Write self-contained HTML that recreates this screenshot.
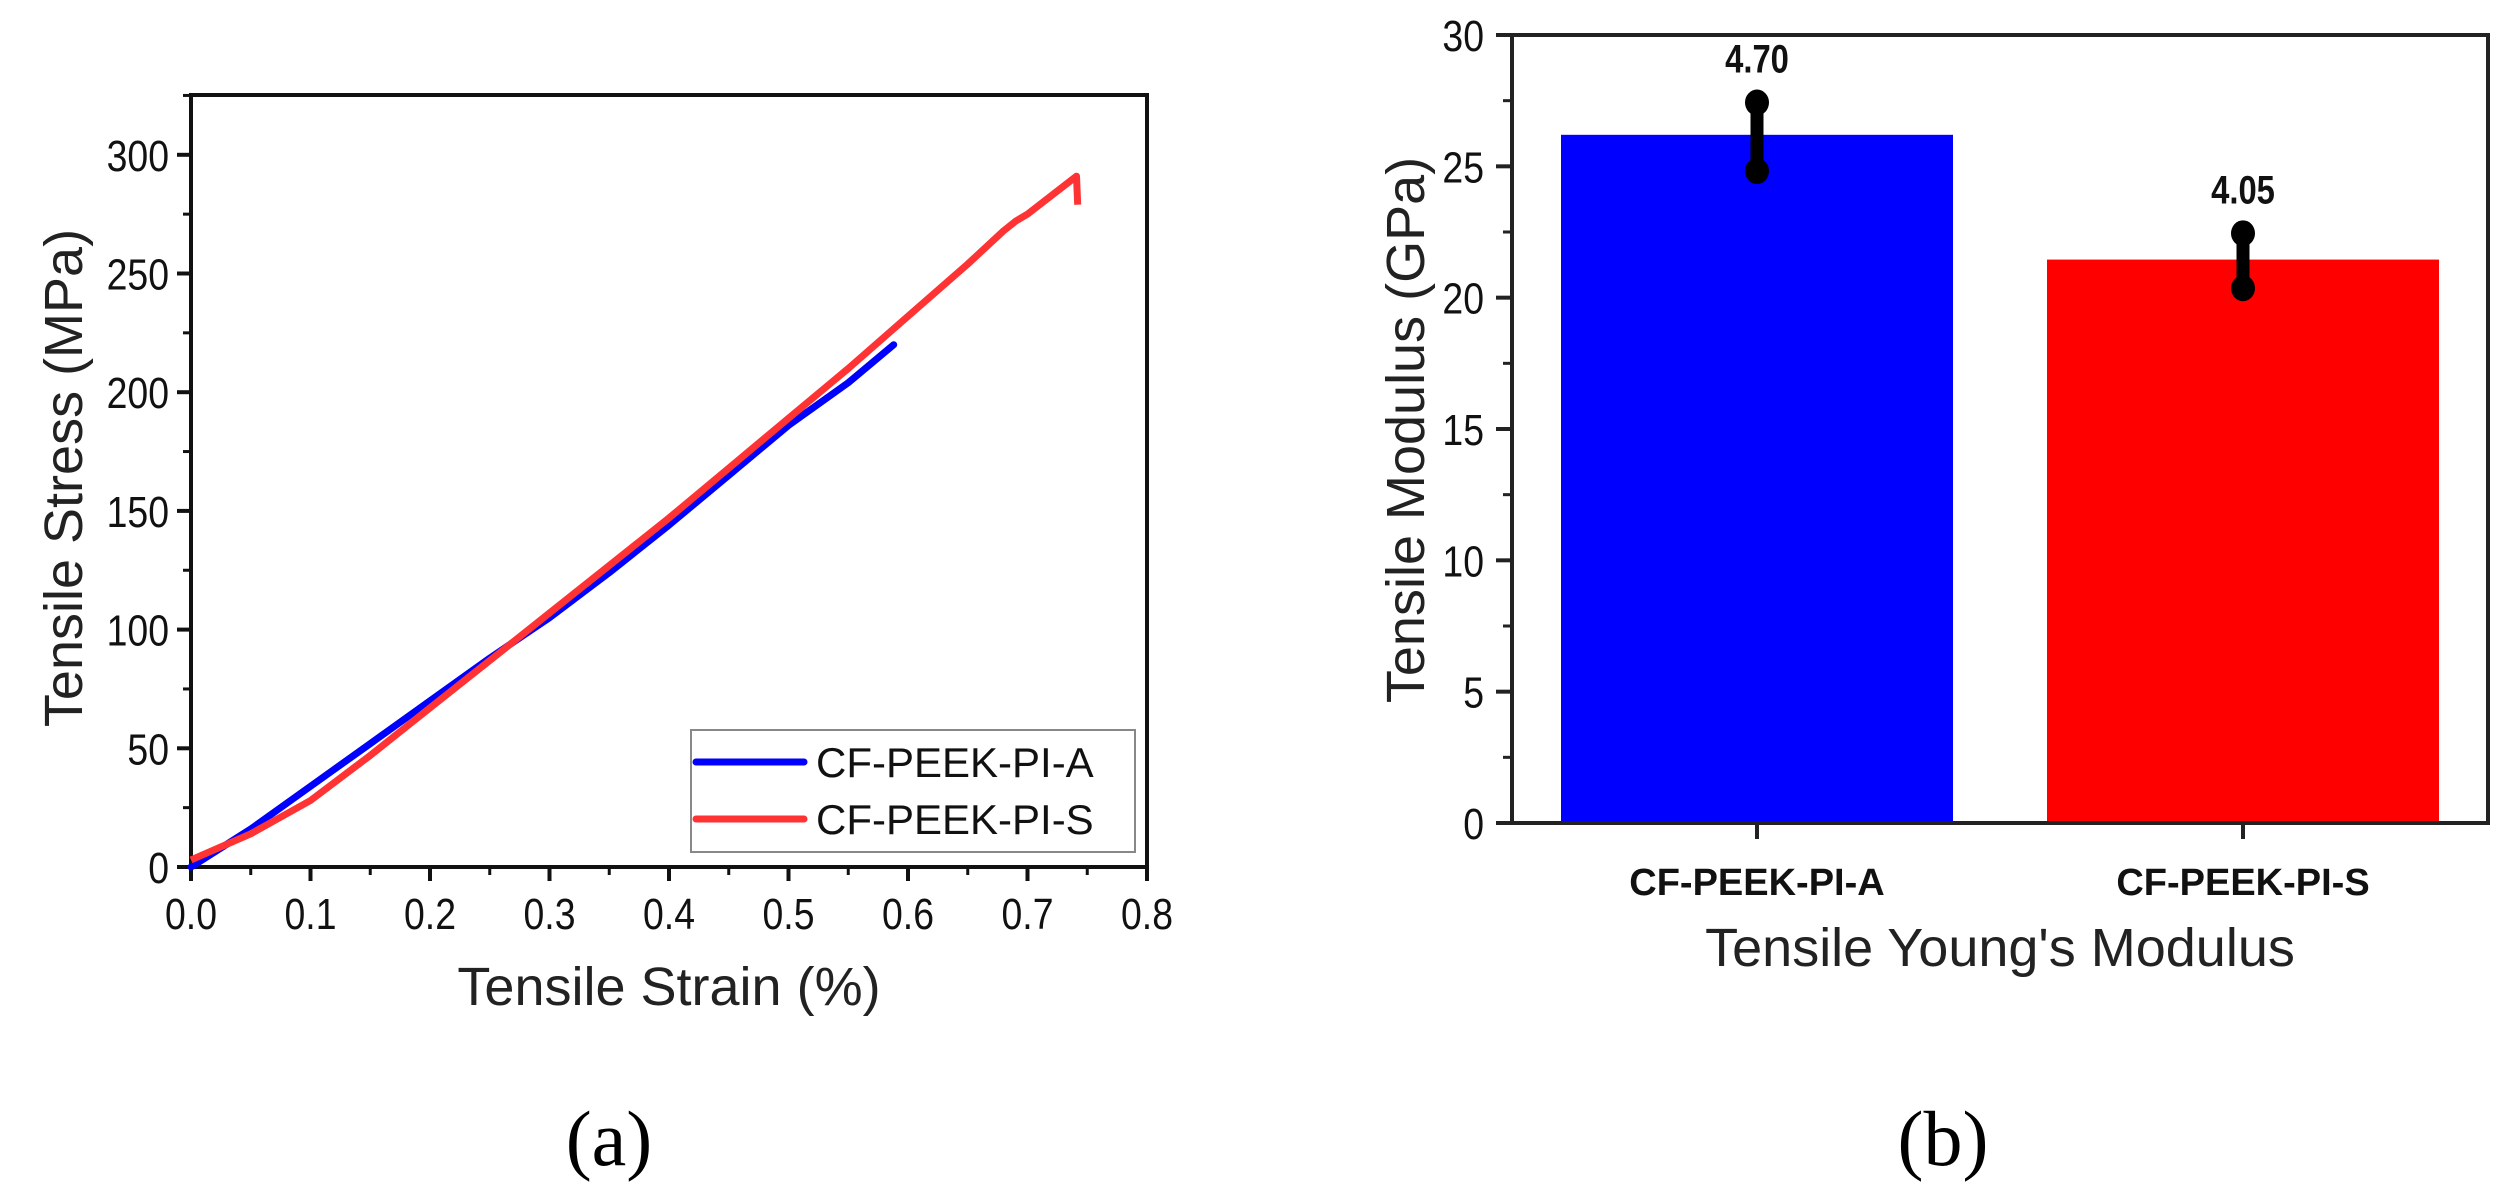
<!DOCTYPE html>
<html><head><meta charset="utf-8"><style>
html,body{margin:0;padding:0;background:#fff;}
svg{display:block;font-family:"Liberation Sans",Arial,sans-serif;}
</style></head><body>
<svg id="fig" width="2513" height="1203" viewBox="0 0 2513 1203" xmlns="http://www.w3.org/2000/svg">
<g id="chartA"></g>
<g id="chartB"></g>
<text x="609" y="1165" font-family="Liberation Serif,serif" font-size="78" text-anchor="middle">(a)</text>
<text x="1943" y="1165" font-family="Liberation Serif,serif" font-size="78" text-anchor="middle">(b)</text>
</svg>
<script>
// ---- Chart A data ----
const strainA = [0,0.05,0.1,0.15,0.2,0.25,0.3,0.35,0.4,0.45,0.5,0.55,0.588];
const stressA = [0,16,34,52,70,88,105,124,144,165,186,204,220];
const strainS = [0,0.05,0.1,0.15,0.2,0.25,0.3,0.35,0.4,0.45,0.5,0.55,0.6,0.65,0.68,0.69,0.7,0.741,0.742];
const stressS = [3,14,28,47,67,87,107,127,147,168,189,210,232,254,268,272,275,291,279];
const xTicksA = [0,0.1,0.2,0.3,0.4,0.5,0.6,0.7,0.8];
const yTicksA = [0,50,100,150,200,250,300];
// ---- Chart B data ----
const categories = ["CF-PEEK-PI-A","CF-PEEK-PI-S"];
const modulus = [26.2,21.45];
const errLow = [24.82,20.36];
const errHigh = [27.43,22.45];
const valueLabels = ["4.70","4.05"];
const yTicksB = [0,5,10,15,20,25,30];

const NS="http://www.w3.org/2000/svg";
function mk(parent,tag,attrs){const e=document.createElementNS(NS,tag);for(const k in attrs)e.setAttribute(k,attrs[k]);parent.appendChild(e);return e;}
function ctext(parent,x,y,str,size,anchor,weight,sx){
  const t=mk(parent,'text',{x:0,y:0,'font-size':size,'text-anchor':anchor,fill:'#111','font-weight':weight||'normal',transform:`translate(${x},${y}) scale(${sx||0.85},1)`});
  t.textContent=str;return t;
}

// Chart A
const A=document.getElementById('chartA');
const aL=191,aR=1147,aT=95,aB=867;
const ax=v=>aL+(v-0)/0.8*(aR-aL);
const ay=v=>aB-(v/50)*118.7;
let el;
el=mk(A,'rect',{x:aL,y:aT,width:aR-aL,height:aB-aT,fill:'none',stroke:'#111','stroke-width':4});


xTicksA.forEach((t,i)=>{
  let tk=mk(A,'line',{x1:ax(t),x2:ax(t),y1:aB,y2:aB+14,stroke:'#111','stroke-width':4});
  
  
  if(i<xTicksA.length-1){let m=mk(A,'line',{x1:ax(t+0.05),x2:ax(t+0.05),y1:aB,y2:aB+8,stroke:'#111','stroke-width':3});
  
  }
  let tx=ctext(A,ax(t),aB+62,t.toFixed(1),44,'middle');
  
  
});
yTicksA.forEach(t=>{
  let tk=mk(A,'line',{x1:aL-14,x2:aL,y1:ay(t),y2:ay(t),stroke:'#111','stroke-width':4});
  
  
  let m=mk(A,'line',{x1:aL-8,x2:aL,y1:ay(t+25),y2:ay(t+25),stroke:'#111','stroke-width':3});
  
  
  let tx=ctext(A,aL-22,ay(t)+16,String(t),44,'end');
  
  
});
function path(xs,ys){return xs.map((x,i)=>(i?'L':'M')+ax(x).toFixed(1)+','+ay(ys[i]).toFixed(1)).join(' ');}
el=mk(A,'path',{d:path(strainA,stressA),fill:'none',stroke:'#0000ff','stroke-width':7,'stroke-linejoin':'round','stroke-linecap':'round'});


el=mk(A,'path',{d:path(strainS,stressS),fill:'none',stroke:'#ff3333','stroke-width':7,'stroke-linejoin':'round'});


el=mk(A,'text',{x:(aL+aR)/2,y:1005,'font-size':54,'text-anchor':'middle',fill:'#222'});el.textContent='Tensile Strain (%)';


el=mk(A,'text',{x:0,y:0,'font-size':54,'text-anchor':'middle',fill:'#222',transform:'translate(82,478) rotate(-90)'});el.textContent='Tensile Stress (MPa)';


// legend
el=mk(A,'rect',{x:691,y:730,width:444,height:122,fill:'#fff',stroke:'#888','stroke-width':2});


[['CF-PEEK-PI-A','#0000ff',762],['CF-PEEK-PI-S','#ff3333',819]].forEach(([n,c,y])=>{
  let l=mk(A,'line',{x1:696,x2:804,y1:y,y2:y,stroke:c,'stroke-width':7,'stroke-linecap':'round'});
  
  
  let t=mk(A,'text',{x:816,y:y+15,'font-size':42,fill:'#111'});t.textContent=n;
  
  
});

// Chart B
const B=document.getElementById('chartB');
const bL=1512,bR=2488,bT=35,bB=823;
const by=v=>bB-v/30*(bB-bT);
const bx=i=>bL+245+i*486;
const bw=392;
categories.forEach((c,i)=>{
  let r=mk(B,'rect',{x:bx(i)-bw/2,y:by(modulus[i]),width:bw,height:bB-by(modulus[i]),fill:i?'#ff0000':'#0000ff'});
  
  
  let e=mk(B,'line',{x1:bx(i),x2:bx(i),y1:by(errHigh[i]),y2:by(errLow[i]),stroke:'#000','stroke-width':13});
  
  
  [errHigh[i],errLow[i]].forEach(v=>{let cc=mk(B,'ellipse',{cx:bx(i),cy:by(v),rx:12,ry:13,fill:'#000'});
    
    });
  let vl=ctext(B,bx(i),by(errHigh[i])-30,valueLabels[i],40,'middle','bold',0.82);
  
  
  let tk=mk(B,'line',{x1:bx(i),x2:bx(i),y1:bB,y2:bB+16,stroke:'#222','stroke-width':4});
  
  
  let cl=mk(B,'text',{x:bx(i),y:bB+72,'font-size':38,'font-weight':'bold','text-anchor':'middle',fill:'#111'});cl.textContent=c;
  
  
});
el=mk(B,'rect',{x:bL,y:bT,width:bR-bL,height:bB-bT,fill:'none',stroke:'#222','stroke-width':4});


yTicksB.forEach((t,i)=>{
  let tk=mk(B,'line',{x1:bL-16,x2:bL,y1:by(t),y2:by(t),stroke:'#222','stroke-width':4});
  
  
  if(i<yTicksB.length-1){let m=mk(B,'line',{x1:bL-9,x2:bL,y1:by(t+2.5),y2:by(t+2.5),stroke:'#222','stroke-width':3});
  
  }
  let tx=ctext(B,bL-28,by(t)+16,String(t),44,'end');
  
  
});
el=mk(B,'text',{x:(bL+bR)/2,y:966,'font-size':54,'text-anchor':'middle',fill:'#222'});el.textContent="Tensile Young's Modulus";


el=mk(B,'text',{x:0,y:0,'font-size':54,'text-anchor':'middle',fill:'#222',transform:'translate(1424,430) rotate(-90)'});el.textContent='Tensile Modulus (GPa)';


</script>
</body></html>
